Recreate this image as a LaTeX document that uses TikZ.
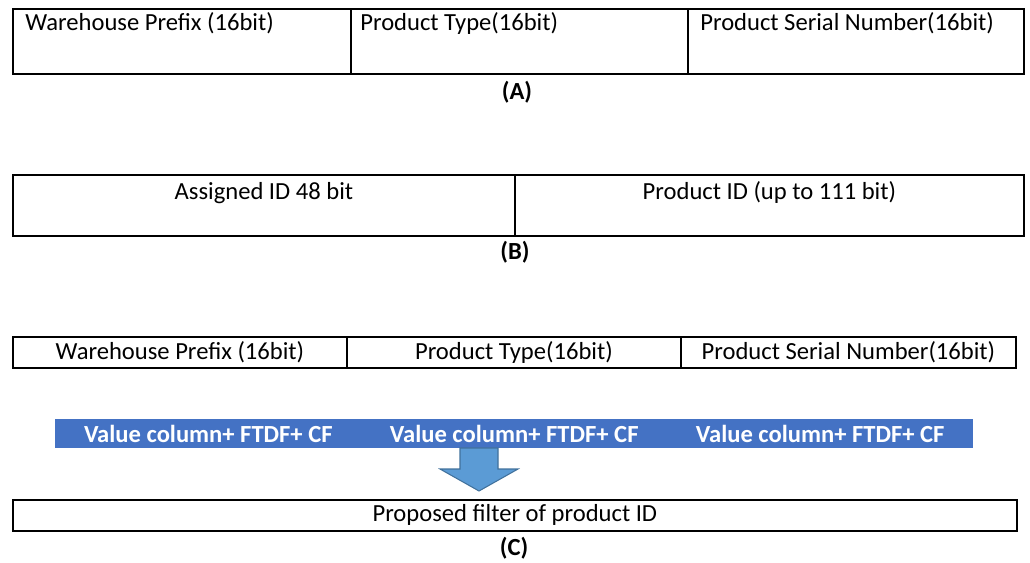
\documentclass[tikz,border=0pt]{standalone}
\usepackage{fontspec}
\setmainfont{Carlito}
\definecolor{barBlue}{RGB}{68,114,196}
\definecolor{arrowBlue}{RGB}{91,155,213}
\definecolor{arrowEdge}{RGB}{65,113,156}

\begin{document}
\begin{tikzpicture}[x=0.02cm, y=-0.02cm,
        cell/.style={rectangle, draw=black, line width=1.1pt, fill=none, inner sep=0pt, anchor=north west, font=\fontsize{14}{16}\selectfont},
        celltext/.style={inner sep=0pt, font=\fontsize{14}{16}\selectfont},
        caption/.style={inner sep=0pt, font=\fontsize{14}{16}\selectfont\bfseries},
        valuebar/.style={rectangle, fill=barBlue, draw=none, inner sep=0pt, anchor=north west, minimum width=18.36cm, minimum height=0.58cm},
        bartext/.style={inner sep=0pt, text=white, font=\fontsize{14}{16}\selectfont\bfseries},
        downarrow/.style={fill=arrowBlue, draw=arrowEdge, line width=0.6pt, line join=miter}
    ]
        \useasboundingbox (0,0) rectangle (1030,562);
        % (A)
        \node[cell, minimum width=6.76cm, minimum height=1.3cm] (aPrefix) at (12,8) {};
        \node[cell, minimum width=6.74cm, minimum height=1.3cm] (aType) at (350,8) {};
        \node[cell, minimum width=6.72cm, minimum height=1.3cm] (aSerial) at (687,8) {};
        \node[celltext, anchor=base west] at ([xshift=0.26cm, yshift=-0.44cm]aPrefix.north west) {Warehouse Prefix (16bit)};
        \node[celltext, anchor=base west] at ([xshift=0.2cm, yshift=-0.44cm]aType.north west) {Product Type(16bit)};
        \node[celltext, anchor=base west] at ([xshift=0.26cm, yshift=-0.44cm]aSerial.north west) {Product Serial Number(16bit)};
        \node[caption] (capA) at (517,92) {(A)};
        % (B)
        \node[cell, minimum width=10.04cm, minimum height=1.22cm] (bAssigned) at (12,174) {};
        \node[cell, minimum width=10.18cm, minimum height=1.22cm] (bProduct) at (514,174) {};
        \node[celltext, anchor=base] at ([yshift=-0.5cm]bAssigned.north) {Assigned ID 48 bit};
        \node[celltext, anchor=base] at ([yshift=-0.5cm]bProduct.north) {Product ID (up to 111 bit)};
        \node[caption] (capB) at (515,252) {(B)};
        % (C)
        \node[cell, minimum width=6.68cm, minimum height=0.62cm] (cPrefix) at (12,336) {};
        \node[cell, minimum width=6.68cm, minimum height=0.62cm] (cType) at (346,336) {};
        \node[cell, minimum width=6.7cm, minimum height=0.62cm] (cSerial) at (680,336) {};
        \node[celltext, anchor=base] at ([yshift=-0.46cm]cPrefix.north) {Warehouse Prefix (16bit)};
        \node[celltext, anchor=base] at ([yshift=-0.46cm]cType.north) {Product Type(16bit)};
        \node[celltext, anchor=base] at ([yshift=-0.46cm]cSerial.north) {Product Serial Number(16bit)};
        \node[valuebar] (bar) at (55,419) {};
        \node[bartext, anchor=base] at ([xshift=-6.12cm, yshift=-0.46cm]bar.north) {Value column+ FTDF+ CF};
        \node[bartext, anchor=base] at ([yshift=-0.46cm]bar.north) {Value column+ FTDF+ CF};
        \node[bartext, anchor=base] at ([xshift=6.12cm, yshift=-0.46cm]bar.north) {Value column+ FTDF+ CF};
        \node[cell, minimum width=20.08cm, minimum height=0.62cm] (filter) at (12,499) {};
        \node[celltext, anchor=base] at ([yshift=-0.44cm]filter.north) {Proposed filter of product ID};
        \draw[downarrow] (460,448) -- (498,448) -- (498,469) -- (518,469) -- (479,491) -- (440,469) -- (460,469) -- cycle;
        \node[caption] (capC) at (514,548) {(C)};
    \end{tikzpicture}
\end{document}
